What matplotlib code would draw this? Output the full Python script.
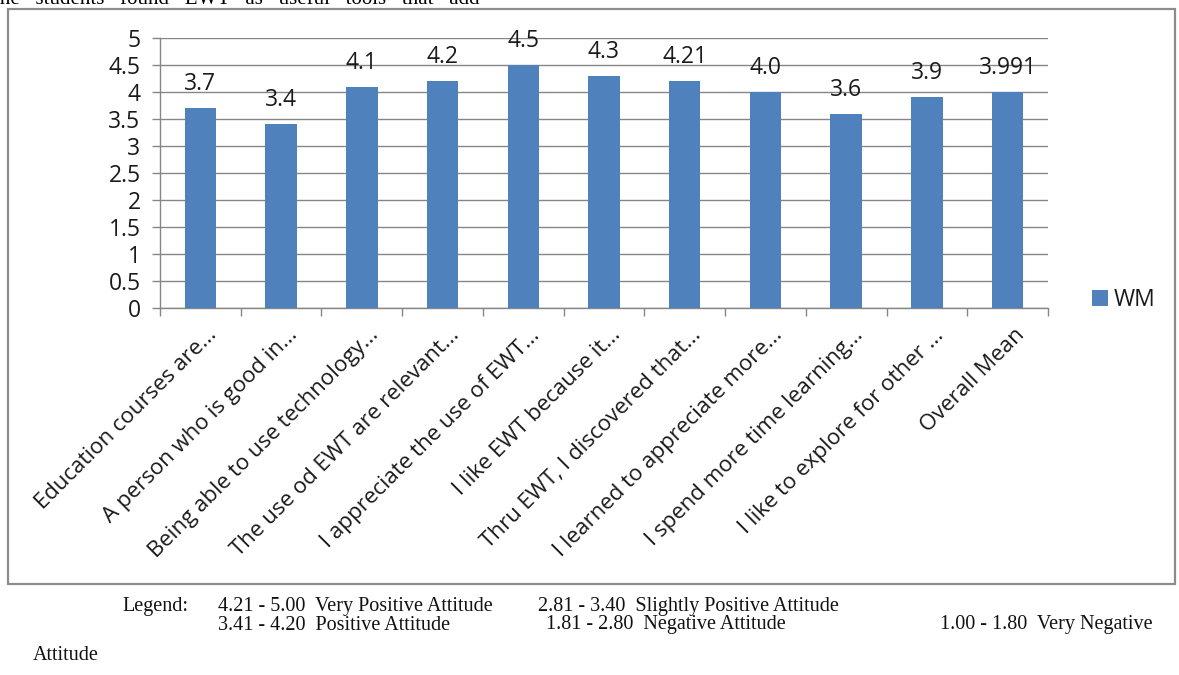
import matplotlib
matplotlib.use('Agg')
import matplotlib.pyplot as plt
from matplotlib.patches import Rectangle
from matplotlib.transforms import ScaledTranslation

# Weighted mean per survey statement
statements = [
    'Education courses are...',
    'A person who is good in...',
    'Being able to use technology...',
    'The use od EWT are relevant...',
    'I appreciate the use of EWT...',
    'I like EWT because it...',
    'Thru EWT, I discovered that...',
    'I learned to appreciate more...',
    'I spend more time learning...',
    'I like to explore for other ...',
    'Overall Mean',
]
wm_values = [3.7, 3.4, 4.1, 4.2, 4.5, 4.3, 4.21, 4.0, 3.6, 3.9, 3.991]
wm_labels = ['3.7', '3.4', '4.1', '4.2', '4.5', '4.3', '4.21', '4.0', '3.6', '3.9', '3.991']
y_ticks = [0, 0.5, 1, 1.5, 2, 2.5, 3, 3.5, 4, 4.5, 5]
y_tick_labels = ['0', '0.5', '1', '1.5', '2', '2.5', '3', '3.5', '4', '4.5', '5']

bar_color = '#4F81BD'
grid_color = '#868686'
text_color = '#1a1a1a'
sans = ['Open Sans', 'DejaVu Sans']
serif = ['Liberation Serif', 'DejaVu Serif']
W, H = 1179, 675

fig = plt.figure(figsize=(W / 100, H / 100), dpi=100)
ax = fig.add_axes([160 / W, 1 - 308 / H, 888 / W, 270 / H])

x = list(range(len(statements)))
bars = ax.bar(x, wm_values, width=0.39, color=bar_color, zorder=3, label='WM')

for b, txt in zip(bars, wm_labels):
    ax.annotate(txt, (b.get_x() + b.get_width() / 2, b.get_height()),
                xytext=(0, 13), textcoords='offset points',
                ha='center', va='baseline', fontsize=16.5, family=sans,
                color=text_color, annotation_clip=False)

ax.set_xlim(-0.5, len(statements) - 0.5)
ax.set_ylim(0, 5)
ax.set_yticks(y_ticks)
ax.set_yticklabels(y_tick_labels, fontsize=16.5, family=sans, color=text_color)
ax.yaxis.grid(True, color=grid_color, linewidth=1, zorder=0)

ax.set_xticks(x)
ax.set_xticklabels(statements, rotation=45, ha='right', rotation_mode='anchor',
                   fontsize=16, family=sans, color=text_color)
ax.tick_params(axis='x', length=0, pad=12)
# nudge category labels a little to the right
shift = ScaledTranslation(6 / 100, 0, fig.dpi_scale_trans)
for lbl in ax.get_xticklabels():
    lbl.set_transform(lbl.get_transform() + shift)

ax.set_xticks([i - 0.5 for i in range(len(statements) + 1)], minor=True)
ax.tick_params(axis='x', which='minor', length=6, color=grid_color, width=1)
ax.tick_params(axis='y', length=6, color=grid_color, width=1, pad=8)

for side in ['top', 'right']:
    ax.spines[side].set_visible(False)
for side in ['left', 'bottom']:
    ax.spines[side].set_color(grid_color)
    ax.spines[side].set_linewidth(1)

ax.legend(loc='center left', bbox_to_anchor=(1.026, 0.03), frameon=False,
          prop={'family': sans, 'size': 16.5}, handlelength=0.7, handleheight=0.7,
          handletextpad=0.25, labelcolor=text_color)

# border around the chart object
fig.patches.append(Rectangle((8 / W, 1 - 584 / H), 1167 / W, 575 / H,
                             transform=fig.transFigure, fill=False,
                             edgecolor='#8c8c8c', linewidth=1.6))

# line of body text running off the top of the page
fig.text(-6 / W, 1 - 4 / H, 'the   students   found   EWT   as   useful   tools   that   add',
         family=serif, fontsize=15, ha='left', va='baseline')

# rating scale key below the chart
key = [
    (122, 607, 'Legend:'),
    (218, 607, '4.21 - 5.00  Very Positive Attitude'),
    (538, 607, '2.81 - 3.40  Slightly Positive Attitude'),
    (218, 625, '3.41 - 4.20  Positive Attitude'),
    (546, 625, '1.81 - 2.80  Negative Attitude'),
    (940, 625, '1.00 - 1.80  Very Negative'),
    (33, 656, 'Attitude'),
]
for kx, ky, ktxt in key:
    fig.text(kx / W, 1 - ky / H, ktxt, family=serif, fontsize=14.5,
             ha='left', va='center', color='#111111')

fig.savefig('out.png', dpi=100)
